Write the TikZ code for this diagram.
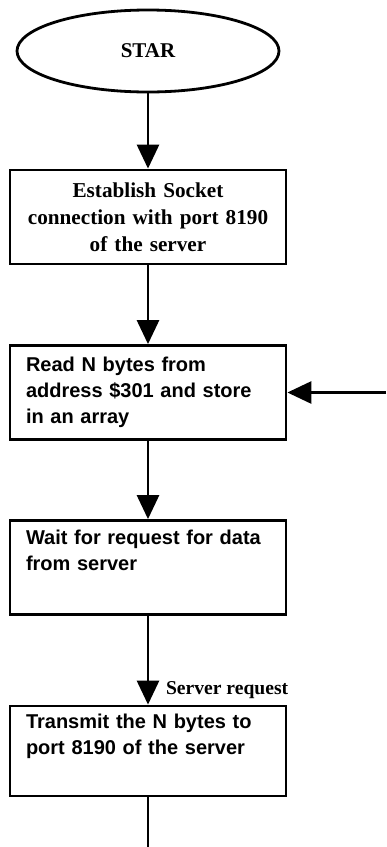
\documentclass[tikz,border=0pt]{standalone}
\usepackage{fontspec}
\setmainfont{Liberation Serif}
\setsansfont{Liberation Sans}
\usetikzlibrary{arrows.meta, shapes.geometric}
\def\boxW{138pt}
\def\boxH{47pt}
\def\colX{148}

\begin{document}
\begin{tikzpicture}[
    x=0.5pt, y=-0.5pt,
    line width=1.4pt,
    >={Triangle[length=12pt,width=11pt]},
    box/.style={rectangle, draw, minimum width=\boxW, minimum height=\boxH, inner ysep=0pt},
    serifbox/.style={box, text width=124pt, inner xsep=7pt, align=center,
        font=\rmfamily\bfseries\fontsize{10.6}{13.5}\selectfont},
    sansbox/.style={box, text width=122pt, inner xsep=8pt, align=left,
        font=\sffamily\bfseries\fontsize{10}{13}\selectfont}
]
\useasboundingbox (0,0) rectangle (386,847);
\node[ellipse, draw, minimum width=131pt, minimum height=41pt, inner sep=0pt,
    font=\rmfamily\bfseries\fontsize{10.5}{13}\selectfont] (star) at (\colX,51) {STAR};
\node[serifbox] (sock) at (\colX,217) {Establish Socket\\ connection with port 8190\\ of the server};
\node[sansbox] (read) at (\colX,392.5) {Read N bytes from\\ address \$301 and store\\ in an array};
\node[sansbox] (wait) at (\colX,567.5) {Wait for request for data\\ from server\\ \strut};
\node[sansbox, minimum height=45pt] (send) at (\colX,751) {Transmit the N bytes to\\ port 8190 of the server\\ \strut};
\coordinate (back) at (386,392.5);
\coordinate (out) at (\colX,847);
\draw[->] (star) -- (sock);
\draw[->] (sock) -- (read);
\draw[->] (back) -- (read);
\draw[->] (read) -- (wait);
\draw[->] (wait) -- node[pos=0.84, anchor=west, xshift=5pt,
    font=\rmfamily\bfseries\fontsize{9.8}{12}\selectfont] (req) {Server request} (send);
\draw (send) -- (out);
\end{tikzpicture}
\end{document}
